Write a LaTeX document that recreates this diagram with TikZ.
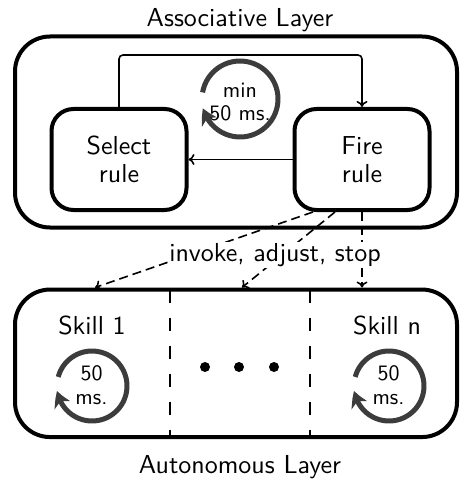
\documentclass[tikz,border=0pt]{standalone}
\usepackage{fontspec}
\setsansfont{lmsans10-regular.otf}
\usetikzlibrary{arrows.meta,bending,calc}
\definecolor{cyclegray}{HTML}{3C3C3C}
\begin{document}
\begin{tikzpicture}[x=1pt,y=-1pt,
  bigtext/.style={font=\sffamily\fontsize{26}{28}\selectfont},
  smalltext/.style={font=\sffamily\fontsize{22}{23.5}\selectfont, align=center},
  layer/.style={draw, line width=4pt, rounded corners=35pt, inner sep=0pt},
  rulebox/.style={draw, line width=4pt, rounded corners=22pt, inner sep=0pt,
    minimum width=135pt, minimum height=101pt, align=center, bigtext},
  flow/.style={line width=1.6pt, -{To[length=6pt,width=11pt]}},
  cmd/.style={flow, dash pattern=on 9pt off 5pt},
  separator/.style={line width=2pt, dash pattern=on 13pt off 15pt},
  cycle/.style={line width=5pt, draw=cyclegray,
    -{Stealth[length=15pt,width=17pt,inset=4pt,bend]}}]
\useasboundingbox (0,0) rectangle (460,481);

% layer frames
\node[layer, minimum width=442pt, minimum height=191pt] (assoc) at (236,132) {};
\node[layer, minimum width=442pt, minimum height=147.5pt] (auton) at (236,363.3) {};
\node[bigtext] (assoclabel) at (240,20) {Associative Layer};
\node[bigtext] (autonlabel) at (240,467) {Autonomous Layer};

% rule cycle
\node[rulebox] (select) at (119,159.5) {Select\\rule};
\node[rulebox] (fire) at (362,159.5) {Fire\\rule};
\draw[flow, rounded corners=4pt] (select.north) -- ++(0,-52) -| (fire.north);
\draw[flow] (fire.west) -- (select.east);

\draw[cycle] (240,99) ++(-170:38) arc[start angle=-170, end angle=166, radius=38];
\node[smalltext] (mincycle) at (240,102) {min\\50 ms.};

% skills
\draw[separator] (170,289.5) -- (170,437);
\draw[separator] (310,289.5) -- (310,437);
\node[bigtext] (skill1) at (92,325) {Skill 1};
\node[bigtext] (skilln) at (387,325) {Skill n};
\fill (205,367) circle (5pt) (239,367) circle (5pt) (274,367) circle (5pt);

\draw[cycle] (92,386) ++(-165:35) arc[start angle=-165, end angle=172, radius=35];
\node[smalltext] (cycle1) at (91.5,385) {50\\ms.};
\draw[cycle] (389,386) ++(-165:35) arc[start angle=-165, end angle=172, radius=35];
\node[smalltext] (cyclen) at (388.5,385) {50\\ms.};

% commands from the associative layer
\coordinate (t1) at (95,287.5);
\coordinate (t2) at (242,287.5);
\coordinate (t3) at (362,287.5);
\draw[cmd] ($(fire.south)+(-49,0)$) -- (t1);
\draw[cmd] ($(fire.south)+(-27,0)$) -- (t2);
\draw[cmd] (fire.south) -- (t3);
\node[bigtext, fill=white, inner sep=1pt] (cmdlabel) at (275,255) {invoke, adjust, stop};
\end{tikzpicture}
\end{document}
